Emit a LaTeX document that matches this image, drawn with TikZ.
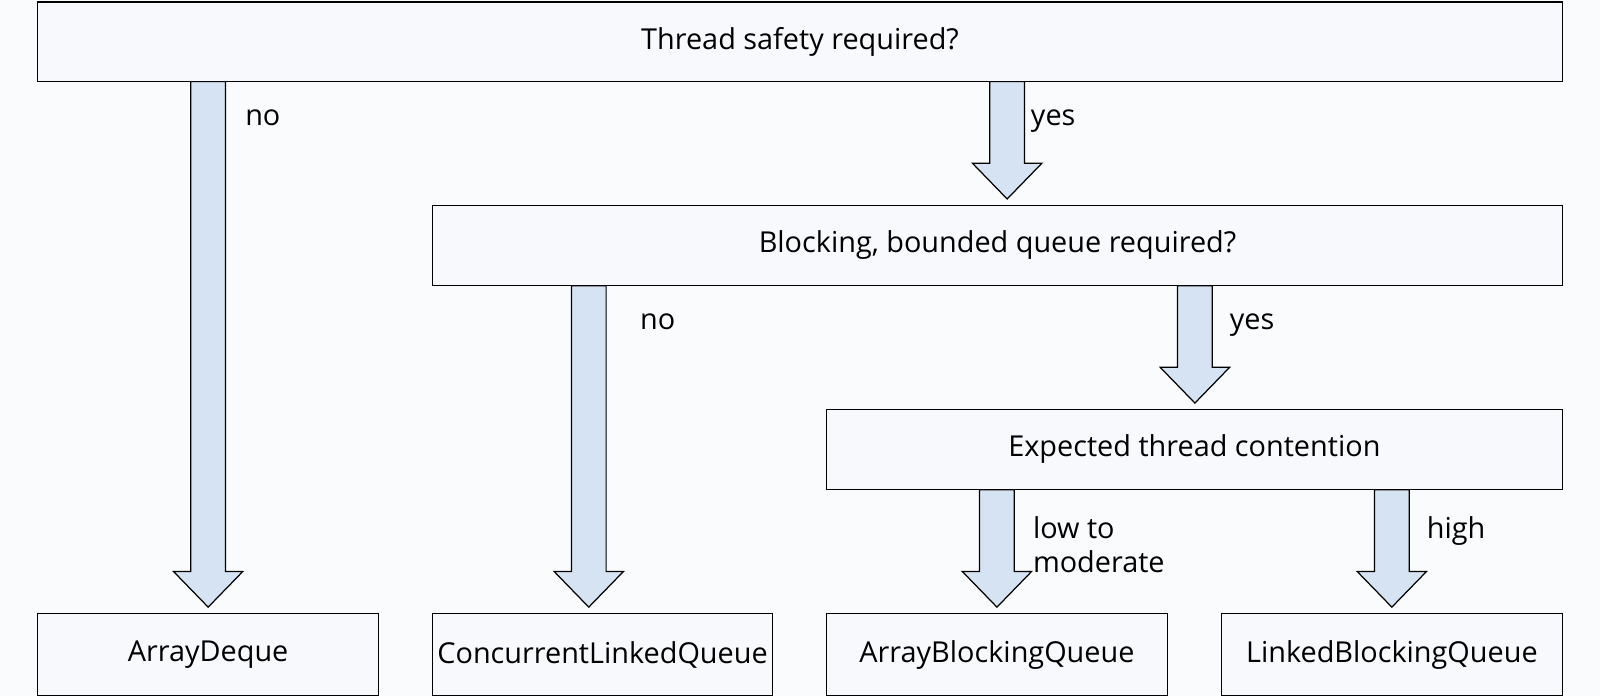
\documentclass[tikz,border=0pt]{standalone}
\usepackage{fontspec}
\setmainfont{Open Sans}
\usetikzlibrary{positioning}
\definecolor{bgc}{HTML}{FAFBFD}
\definecolor{boxc}{HTML}{F7F9FC}
\definecolor{arrc}{HTML}{D5E3F3}
\tikzset{decision/.style={rectangle,draw=black,fill=boxc,line width=0.7pt,
inner sep=0pt,font=\fontsize{16.4}{19}\selectfont}}
\tikzset{answer/.style={anchor=north west,inner sep=0pt,align=left,
font=\fontsize{16.4}{19}\selectfont}}
% block arrow: centre x, top y, bottom y (pixels)
\newcommand{\blockarrow}[3]{%
  \draw[fill=arrc,line width=0.7pt] (#1-17,#2) -- (#1+17,#2) -- (#1+17,#3-35)
    -- (#1+34,#3-35) -- (#1,#3) -- (#1-34,#3-35) -- (#1-17,#3-35) -- cycle;}

\begin{document}
\begin{tikzpicture}[x=0.020408cm,y=-0.020408cm]
        \fill[bgc] (0,0) rectangle (1568,682);
        \useasboundingbox (0,0) rectangle (1568,682);

        \node[decision,minimum width=30.49cm,minimum height=1.59cm] (qsafe) at (784,41) {Thread safety required?};
        \node[decision,minimum width=22.59cm,minimum height=1.61cm] (qblock) at (977.5,240.5) {Blocking, bounded queue required?};
        \node[decision,minimum width=14.71cm,minimum height=1.61cm] (qcont) at (1170.5,440.5) {Expected thread contention};

        \node[decision,minimum width=6.82cm,minimum height=1.65cm] (deque) at (204,641.5) {ArrayDeque};
        \node[decision,minimum width=6.80cm,minimum height=1.65cm] (clq) at (590.5,641.5) {ConcurrentLinkedQueue};
        \node[decision,minimum width=6.82cm,minimum height=1.65cm] (abq) at (977,641.5) {ArrayBlockingQueue};
        \node[decision,minimum width=6.82cm,minimum height=1.65cm] (lbq) at (1364,641.5) {LinkedBlockingQueue};

        \blockarrow{204}{80}{595}
        \blockarrow{987}{80}{195}
        \blockarrow{577}{280}{595}
        \blockarrow{1171}{280}{395}
        \blockarrow{977}{480}{595}
        \blockarrow{1364}{480}{595}

        \node[answer] (lno1) at (240,107) {no};
        \node[answer] (lyes1) at (1010,107) {yes};
        \node[answer] (lno2) at (627,307) {no};
        \node[answer] (lyes2) at (1205,307) {yes};
        \node[answer,font=\fontsize{16.4}{19.5}\selectfont] (llow) at (1012,506) {low to\\moderate};
        \node[answer] (lhigh) at (1398,506) {high};

    \end{tikzpicture}
\end{document}
